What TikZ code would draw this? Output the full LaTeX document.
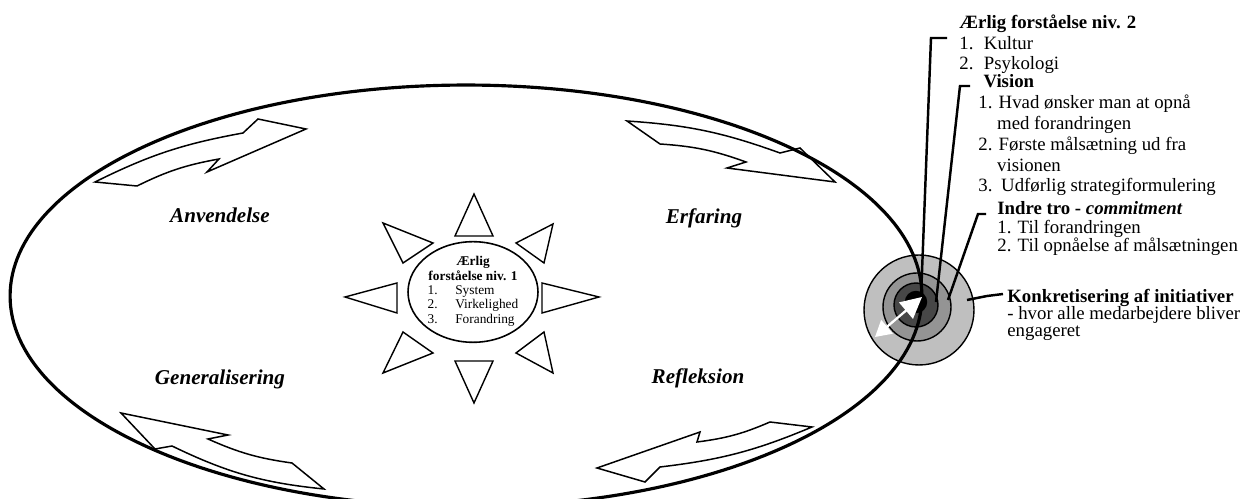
\documentclass[tikz,border=0pt]{standalone}
\usepackage{fontspec}
\setmainfont{Liberation Serif}
\usetikzlibrary{arrows.meta,shapes.geometric}

\begin{document}
\begin{tikzpicture}[x=0.02cm,y=-0.02cm,
  blockarrow/.style={draw, line width=0.85pt, fill=white, line join=miter},
  sunray/.style={draw, line width=0.8pt, fill=white},
  phase/.style={font=\fontsize{12}{14}\selectfont\bfseries\itshape, anchor=base, inner sep=0pt},
  note/.style={align=left, anchor=base west, inner sep=0pt},
  ring/.style={draw, line width=0.8pt},
  leader/.style={line width=1.4pt}]
\useasboundingbox (0,0) rectangle (1242,499);
% block arrows:
\draw[blockarrow] (95,182) to[bend left=8] (243,133) -- (258,119) -- (306,129) -- (207,172) -- (219,159) to[bend right=8] (137,186) -- cycle;
\draw[blockarrow] (627,121) -- (660,144) to[bend left=8] (746,162) -- (727,168) -- (835,182) -- (800,148) -- (780,153) to[bend right=8] (627,121) -- cycle;
\draw[blockarrow] (121,413) -- (155,449) -- (172,446) to[bend right=10] (324,489) -- (292,463) to[bend left=8] (208,439) -- (228,435) -- cycle;
\draw[blockarrow] (597,468) -- (645,482) -- (660,467) to[bend right=8] (812,427) -- (770,422) to[bend left=8] (697,442) -- (700,432) -- cycle;
% phases:
\node[phase] (anv) at (220,223) {Anvendelse};
\node[phase] (erf) at (704,224) {Erfaring};
\node[phase] (gen) at (220,385) {Generalisering};
\node[phase] (ref) at (698,384) {Refleksion};
% sun:
\foreach \ax/\ay/\bx/\by/\cx/\cy in {474/194/455/236/493/236, 474/403/455/361/493/361,
    345/297/397/283/397/313, 599/297/542/283/542/313, 383/223/433/243/403/263,
    553/224/516/243/544/263, 383/373/433/353/403/332, 553/373/516/353/544/332}
  \draw[sunray] (\ax,\ay) -- (\bx,\by) -- (\cx,\cy) -- cycle;
\node[draw, ellipse, line width=0.9pt, minimum width=2.6cm, minimum height=1.84cm, inner sep=0pt,
  align=center, font=\fontsize{7.6}{8.6}\selectfont] (core) at (473,292)
  {\textbf{Ærlig}\\\textbf{forståelse niv. 1}\\[1pt]
   \renewcommand{\arraystretch}{0.95}%
   \begin{tabular}{@{}l@{\hspace{10pt}}l@{}}1.&System\\2.&Virkelighed\\3.&Forandring\end{tabular}};
% target:
\draw[ring, fill=black!25] (919,310) circle[radius=1.1cm];
\draw[ring, fill=black!42] (917,307) circle[radius=0.68cm];
\draw[ring, fill=black!72] (916,305) circle[radius=0.44cm];
\draw[ring, fill=black] (916,302) circle[radius=0.21cm];
\coordinate (c1) at (921,298);
\coordinate (c2) at (936,302);
\coordinate (c3) at (948,300);
\coordinate (c4) at (967,300);
% cycle:
\draw[line width=1.8pt] (466,296) ellipse[x radius=9.12cm, y radius=4.22cm];
% notes:
\node[note, font=\fontsize{10.7}{11.9}\selectfont] (niv2) at (959,70)
  {\textbf{Ærlig forståelse niv. 2}\\1.\hspace{6pt}Kultur\\2.\hspace{6pt}Psykologi};
\node[note, font=\fontsize{10.7}{11.9}\selectfont] (vision) at (978,192)
  {\hspace*{3pt}\textbf{Vision}\\1. Hvad ønsker man at opnå\\\phantom{1.}~med forandringen\\2. Første målsætning ud fra\\\phantom{2.}~visionen\\3.\hspace{5pt}Udførlig strategiformulering};
\node[note, font=\fontsize{10.7}{10.8}\selectfont] (tro) at (997,252)
  {\textbf{Indre tro - \textit{commitment}}\\1. Til forandringen\\2. Til opnåelse af målsætningen};
\node[note, font=\fontsize{10.7}{9.9}\selectfont] (konk) at (1007,337)
  {\textbf{Konkretisering af initiativer}\\- hvor alle medarbejdere bliver\\engageret};
\coordinate (niv2 tag) at (947,38);
\coordinate (vision tag) at (970,86);
\coordinate (tro tag) at (986,214);
\coordinate (konk tag) at (1003,294);
\draw[leader] (niv2 tag) -- ++(-16,0) -- (c1);
\draw[leader] (vision tag) -- ++(-10,0) -- (c2);
\draw[leader] (tro tag) -- ++(-8,0) -- (c3);
\draw[leader] (konk tag) -- ++(-16,2) -- (c4);
% white arrow:
\coordinate (wa1) at (875,337);
\coordinate (wa2) at (922,297);
\draw[white, line width=1.3pt, {Triangle[length=9pt,width=10pt]}-{Triangle[length=12pt,width=12pt]}] (wa1) -- (wa2);
\end{tikzpicture}
\end{document}
